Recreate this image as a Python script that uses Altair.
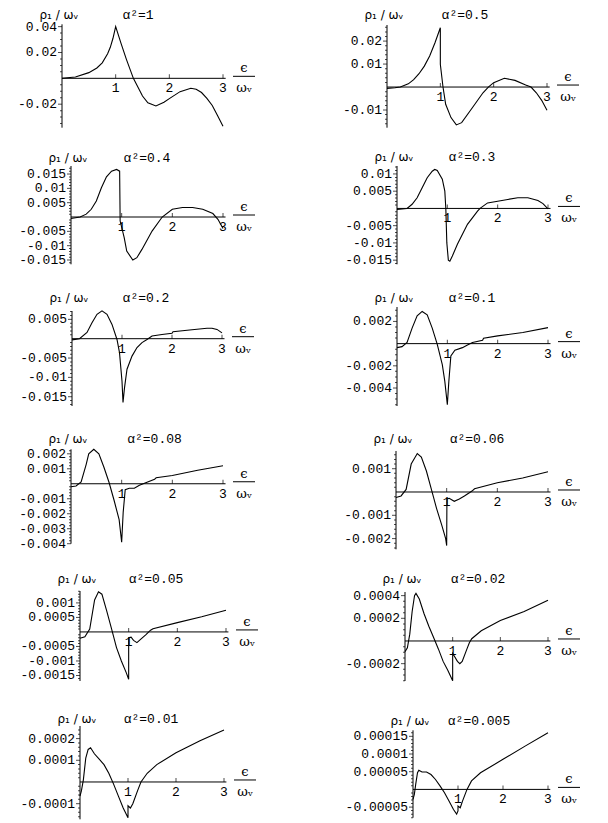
import altair as alt
import numpy as np
import pandas as pd

# ---------------- data ----------------
alpha_labels = ["α²=1", "α²=0.5", "α²=0.4", "α²=0.3", "α²=0.2", "α²=0.1",
                "α²=0.08", "α²=0.06", "α²=0.05", "α²=0.02", "α²=0.01", "α²=0.005"]

eps_1 = [0, 0.25, 0.5, 0.65, 0.75, 0.85, 0.9, 0.95, 1.0, 1.1, 1.2, 1.33, 1.5, 1.6, 1.75, 1.9, 2.0, 2.2, 2.4, 2.5, 2.6, 2.7, 2.8, 2.9, 3.0]
rho_1 = [0, 0.001, 0.0044, 0.008, 0.012, 0.019, 0.024, 0.031, 0.04, 0.027, 0.0147, 0, -0.0137, -0.019, -0.0214, -0.0185, -0.0157, -0.0103, -0.0077, -0.0085, -0.011, -0.0155, -0.021, -0.029, -0.037]

eps_2 = [0, 0.15, 0.25, 0.4, 0.5, 0.6, 0.7, 0.8, 0.9, 1.0, 1.0, 1.05, 1.1, 1.2, 1.3, 1.4, 1.6, 1.8, 1.9, 2.0, 2.2, 2.4, 2.6, 2.7, 2.8, 2.9, 3.0]
rho_2 = [-0.0006, -0.0003, 0, 0.0014, 0.0032, 0.0058, 0.0091, 0.0135, 0.0193, 0.0258, 0.0099, 0, -0.0075, -0.0133, -0.0165, -0.0155, -0.009, -0.0025, 0, 0.0019, 0.0038, 0.0029, 0.0009, 0, -0.0025, -0.0058, -0.0101]

eps_3 = [0, 0.18, 0.3, 0.4, 0.5, 0.6, 0.7, 0.8, 0.9, 0.96, 0.97, 1.05, 1.1, 1.22, 1.3, 1.4, 1.6, 1.8, 2.0, 2.2, 2.4, 2.6, 2.8, 2.9, 3.0]
rho_3 = [-0.0005, 0, 0.001, 0.0027, 0.0056, 0.0102, 0.014, 0.016, 0.0166, 0.016, -0.0014, -0.0072, -0.0119, -0.015, -0.0142, -0.0113, -0.0049, 0, 0.0027, 0.0033, 0.0033, 0.0027, 0.0012, -0.0008, -0.004]

eps_4 = [0, 0.2, 0.3, 0.4, 0.5, 0.6, 0.7, 0.75, 0.8, 0.9, 0.95, 0.97, 0.99, 1.02, 1.05, 1.1, 1.2, 1.4, 1.6, 1.65, 1.8, 2.0, 2.2, 2.4, 2.6, 2.8, 2.9, 3.0]
rho_4 = [-0.0003, 0, 0.0012, 0.0031, 0.006, 0.0089, 0.0108, 0.0113, 0.011, 0.0085, 0.005, 0.0, -0.01, -0.015, -0.0153, -0.0138, -0.0104, -0.0046, -0.0008, 0, 0.0016, 0.0021, 0.0026, 0.0031, 0.0031, 0.0023, 0.0014, -0.0001]

eps_5 = [0, 0.15, 0.3, 0.4, 0.5, 0.6, 0.7, 0.8, 0.9, 0.95, 1.0, 1.02, 1.05, 1.1, 1.2, 1.3, 1.4, 1.5, 1.6, 1.8, 2.0, 2.02, 2.4, 2.7, 2.8, 2.9, 3.0]
rho_5 = [-0.0003, 0, 0.0016, 0.0041, 0.0063, 0.0072, 0.0063, 0.0037, -0.0002, -0.0036, -0.011, -0.0165, -0.0127, -0.0079, -0.0045, -0.0023, -0.001, -0.0002, 0.0007, 0.0011, 0.0014, 0.0018, 0.0023, 0.0027, 0.0027, 0.0024, 0.0015]

eps_6 = [0, 0.1, 0.2, 0.3, 0.4, 0.5, 0.6, 0.7, 0.8, 0.9, 0.95, 1.0, 1.03, 1.07, 1.15, 1.3, 1.4, 1.5, 1.7, 1.72, 2.0, 2.5, 3.0]
rho_6 = [-0.00036, -0.00027, 0.0001, 0.0014, 0.0025, 0.0029, 0.0026, 0.0014, -0.00006, -0.0019, -0.0034, -0.0055, -0.0034, -0.0011, -0.0006, -0.00036, -0.00012, 0.0001, 0.0003, 0.00048, 0.0007, 0.001, 0.00144]

eps_7 = [0, 0.1, 0.2, 0.3, 0.35, 0.45, 0.55, 0.65, 0.75, 0.85, 0.95, 1.0, 1.03, 1.07, 1.15, 1.25, 1.35, 1.5, 1.65, 1.68, 2.0, 2.5, 3.0]
rho_7 = [-0.0002, -0.00015, 0.00013, 0.0013, 0.002, 0.0023, 0.002, 0.0011, 0.0001, -0.0011, -0.0024, -0.0039, -0.0019, -0.0004, -0.0003, -0.0003, -0.0001, 0.0001, 0.0003, 0.0004, 0.00055, 0.0009, 0.0012]

eps_8 = [0, 0.1, 0.2, 0.3, 0.42, 0.5, 0.6, 0.7, 0.8, 0.9, 0.98, 1.0, 1.005, 1.05, 1.15, 1.25, 1.35, 1.5, 1.55, 2.0, 2.5, 3.0]
rho_8 = [-0.00024, -0.00017, 0.00011, 0.0012, 0.00165, 0.0015, 0.0009, 0.0001, -0.0007, -0.0014, -0.002, -0.0023, -0.0003, -0.00027, -0.0004, -0.0003, -0.00017, 0.00004, 0.00014, 0.0004, 0.0006, 0.00087]

eps_9 = [0, 0.1, 0.2, 0.3, 0.38, 0.45, 0.55, 0.65, 0.75, 0.85, 0.95, 1.0, 1.0, 1.05, 1.1, 1.17, 1.25, 1.35, 1.45, 1.5, 2.0, 2.5, 3.0]
rho_9 = [-0.00022, -0.00017, 0.0001, 0.0011, 0.00138, 0.0013, 0.00072, 0.0001, -0.00054, -0.001, -0.0014, -0.00163, -0.0002, -0.00018, -0.00029, -0.00037, -0.00025, -0.0001, 0.00006, 0.00011, 0.00032, 0.00052, 0.00075]

eps_10 = [0, 0.05, 0.1, 0.15, 0.2, 0.23, 0.3, 0.4, 0.5, 0.6, 0.7, 0.8, 0.9, 1.0, 1.0, 1.03, 1.1, 1.15, 1.2, 1.3, 1.35, 1.4, 1.6, 2.0, 2.5, 3.0]
rho_10 = [-0.000094, -0.00006, 0.00006, 0.00026, 0.0004, 0.00042, 0.00037, 0.00024, 0.00013, 0.00003, -0.00007, -0.00018, -0.00026, -0.00035, -0.00011, -0.00013, -0.00018, -0.0002, -0.00018, -0.00007, -0.000015, 0.00002, 0.00009, 0.00018, 0.00026, 0.00036]

eps_11 = [0, 0.03, 0.07, 0.12, 0.17, 0.22, 0.3, 0.4, 0.5, 0.6, 0.7, 0.8, 0.9, 1.0, 1.0, 1.05, 1.1, 1.2, 1.27, 1.4, 1.6, 2.0, 2.5, 3.0]
rho_11 = [-0.000065, -0.00004, 0.00001, 0.00011, 0.00015, 0.000158, 0.00013, 0.000105, 0.00008, 0.00004, -0.00001, -0.000065, -0.00012, -0.000165, -0.00011, -0.00012, -0.0001, -0.00004, 0, 0.00004, 0.00008, 0.000135, 0.00019, 0.00024]

eps_12 = [0, 0.03, 0.06, 0.1, 0.13, 0.2, 0.3, 0.4, 0.5, 0.6, 0.7, 0.8, 0.9, 0.97, 1.0, 1.0, 1.05, 1.1, 1.2, 1.3, 1.5, 2.0, 2.5, 3.0]
rho_12 = [-0.000028, -0.000014, 0.000014, 0.000047, 0.000054, 0.000049, 0.000049, 0.000042, 0.000028, 0.00001, -0.0000095, -0.000033, -0.000057, -0.00007, -0.000061, -0.000047, -0.000052, -0.000033, 0, 0.000024, 0.000047, 0.000085, 0.000123, 0.00016]

EPS = [eps_1, eps_2, eps_3, eps_4, eps_5, eps_6, eps_7, eps_8, eps_9, eps_10, eps_11, eps_12]
RHO = [rho_1, rho_2, rho_3, rho_4, rho_5, rho_6, rho_7, rho_8, rho_9, rho_10, rho_11, rho_12]

# extent of each drawn y axis (data units)
y_min = [-0.0382, -0.0177, -0.0165, -0.0162, -0.0174, -0.00562, -0.004, -0.00246, -0.00169, -0.000353, -0.000172, -0.00008]
y_max = [0.0418, 0.027, 0.0178, 0.0123, 0.00716, 0.0033, 0.0023, 0.00176, 0.00141, 0.000432, 0.000258, 0.000167]

y_ticks = [
    [0.04, 0.02, -0.02],
    [0.02, 0.01, -0.01],
    [0.015, 0.01, 0.005, -0.005, -0.01, -0.015],
    [0.01, 0.005, -0.005, -0.01, -0.015],
    [0.005, -0.005, -0.01, -0.015],
    [0.002, -0.002, -0.004],
    [0.002, 0.001, -0.001, -0.002, -0.003, -0.004],
    [0.001, -0.001, -0.002],
    [0.001, 0.0005, -0.0005, -0.001, -0.0015],
    [0.0004, 0.0002, -0.0002],
    [0.0002, 0.0001, -0.0001],
    [0.00015, 0.0001, 0.00005, -0.00005],
]
y_tick_labels = [
    ["0.04", "0.02", "-0.02"],
    ["0.02", "0.01", "-0.01"],
    ["0.015", "0.01", "0.005", "-0.005", "-0.01", "-0.015"],
    ["0.01", "0.005", "-0.005", "-0.01", "-0.015"],
    ["0.005", "-0.005", "-0.01", "-0.015"],
    ["0.002", "-0.002", "-0.004"],
    ["0.002", "0.001", "-0.001", "-0.002", "-0.003", "-0.004"],
    ["0.001", "-0.001", "-0.002"],
    ["0.001", "0.0005", "-0.0005", "-0.001", "-0.0015"],
    ["0.0004", "0.0002", "-0.0002"],
    ["0.0002", "0.0001", "-0.0001"],
    ["0.00015", "0.0001", "0.00005", "-0.00005"],
]
x_ticks = [1, 2, 3]
x_tick_labels = ["1", "2", "3"]

# ---------------- layout / style (pixels on the page) ----------------
minor_step = [0.005, 0.002, 0.001, 0.001, 0.001, 0.0005, 0.0002, 0.0002, 0.0001, 0.00005, 0.00002, 0.00001]
axis_x = [62, 387, 71, 397, 72, 397, 71, 396, 80, 405, 80, 413]
x3_px = [223, 547, 223, 548, 222, 548, 223, 548, 226, 548, 224, 548]
top_px = [23.3, 24, 165, 165, 310, 306, 448.3, 450, 590, 591, 725, 729.3]
bot_px = [126.7, 126.7, 263.3, 263.3, 405, 405, 542.7, 548.3, 680, 680, 818.3, 816.7]
title_y = [14, 14, 157, 156, 297, 297, 438, 438, 578, 578, 718, 720]
rho_title_y = [13.5, 13.5, 157, 156, 297, 297, 438, 438, 578, 578, 718, 720]
alpha_x = [138, 465, 147, 472, 146, 472, 154.5, 477, 156, 478, 151, 479]
col_x = [8, 308]
col_w = [300, 292]
row_y = [8, 148, 289, 430, 570, 711]
row_h = [140, 141, 141, 140, 141, 104]
XAXIS_END = 3.05
MONO = "Liberation Mono"


def make_panel(k):
    col, row = k % 2, k // 2
    X0, Y0, W, H = col_x[col], row_y[row], col_w[col], row_h[row]
    ppu = (x3_px[k] - axis_x[k]) / 3.0
    ax = axis_x[k] - X0
    top = top_px[k] - Y0
    bot = bot_px[k] - Y0
    ppy = (bot - top) / (y_max[k] - y_min[k])

    xs = alt.Scale(domain=[-ax / ppu, (W - ax) / ppu], nice=False, zero=False)
    ys = alt.Scale(domain=[y_min[k] - (H - bot) / ppy, y_max[k] + top / ppy], nice=False, zero=False)

    def X(field=None, datum=None):
        if field is not None:
            return alt.X(field, scale=xs, axis=None)
        return alt.X(datum=datum, scale=xs, axis=None)

    def Y(field=None, datum=None):
        if field is not None:
            return alt.Y(field, scale=ys, axis=None)
        return alt.Y(datum=datum, scale=ys, axis=None)

    majors = y_ticks[k]
    st = minor_step[k]
    minors = []
    for n in range(int(np.ceil(y_min[k] / st - 1e-9)), int(np.floor(y_max[k] / st + 1e-9)) + 1):
        v = round(n * st, 12)
        if n == 0 or any(abs(v - m) < st * 0.1 for m in majors):
            continue
        minors.append(v)

    df = pd.DataFrame({"eps": EPS[k], "rho": RHO[k], "i": list(range(len(EPS[k])))})
    one = pd.DataFrame({"a": [0]})
    xt = pd.DataFrame({"x": x_ticks, "lab": x_tick_labels})
    yt = pd.DataFrame({"v": majors, "lab": y_tick_labels[k]})
    ym = pd.DataFrame({"v": minors})

    layers = [
        # cell-size spacer (invisible)
        alt.Chart(one).mark_rule(opacity=0).encode(x=alt.value(0), y=alt.value(0), y2=alt.value(H)),
        # y axis line
        alt.Chart(one).mark_rule(color="black", strokeWidth=1).encode(
            x=X(datum=0), y=Y(datum=y_min[k]), y2=alt.Y2(datum=y_max[k])),
        # x axis line
        alt.Chart(one).mark_rule(color="black", strokeWidth=1).encode(
            x=X(datum=0), x2=alt.X2(datum=XAXIS_END), y=Y(datum=0)),
        # y major ticks
        alt.Chart(yt).mark_tick(color="black", orient="horizontal", size=4, thickness=1, xOffset=-2).encode(
            x=X(datum=0), y=Y("v:Q")),
        # y minor ticks
        alt.Chart(ym).mark_tick(color="black", orient="horizontal", size=2, thickness=1, xOffset=-1).encode(
            x=X(datum=0), y=Y("v:Q")),
        # y labels
        alt.Chart(yt).mark_text(font=MONO, fontSize=13, align="right", baseline="middle", dx=-5, color="black").encode(
            x=X(datum=0), y=Y("v:Q"), text="lab:N"),
        # x ticks
        alt.Chart(xt).mark_tick(color="black", orient="vertical", size=4, thickness=1, yOffset=-2).encode(
            x=X("x:Q"), y=Y(datum=0)),
        # x labels
        alt.Chart(xt).mark_text(font=MONO, fontSize=13, dy=10, color="black").encode(
            x=X("x:Q"), y=Y(datum=0), text="lab:N"),
        # the curve
        alt.Chart(df).mark_line(color="black", strokeWidth=1.1).encode(
            x=X("eps:Q"), y=Y("rho:Q"), order="i:Q"),
        # x-axis label  eps / omega_v
        alt.Chart(one).mark_text(text="ϵ", font="DejaVu Serif", fontSize=13, dx=21, dy=-10, color="black").encode(
            x=X(datum=3), y=Y(datum=0)),
        alt.Chart(one).mark_rule(color="black", strokeWidth=1, xOffset=10, x2Offset=32, yOffset=-2).encode(
            x=X(datum=3), x2=alt.X2(datum=3), y=Y(datum=0)),
        alt.Chart(one).mark_text(text="ωᵥ", font="DejaVu Serif", fontSize=13, dx=21, dy=10, color="black").encode(
            x=X(datum=3), y=Y(datum=0)),
        # y-axis label and panel label
        alt.Chart(one).mark_text(text="ρ₁ / ωᵥ", font="DejaVu Sans", fontSize=12, dx=-3, color="black").encode(
            x=X(datum=0), y=alt.value(rho_title_y[k] - Y0)),
        alt.Chart(one).mark_text(text=alpha_labels[k], font=MONO, fontSize=13, color="black").encode(
            x=alt.value(alpha_x[k] - X0), y=alt.value(title_y[k] - Y0)),
    ]
    return alt.layer(*layers).properties(width=W, height=H)


panels = [make_panel(k) for k in range(12)]

chart = alt.concat(
    *panels, columns=2, spacing=0, align="each"
).properties(
    padding={"left": 0, "top": 0, "right": 0, "bottom": 0}
).configure_view(stroke=None)

chart.save("out.html", embed_options={"renderer": "svg", "actions": False})
